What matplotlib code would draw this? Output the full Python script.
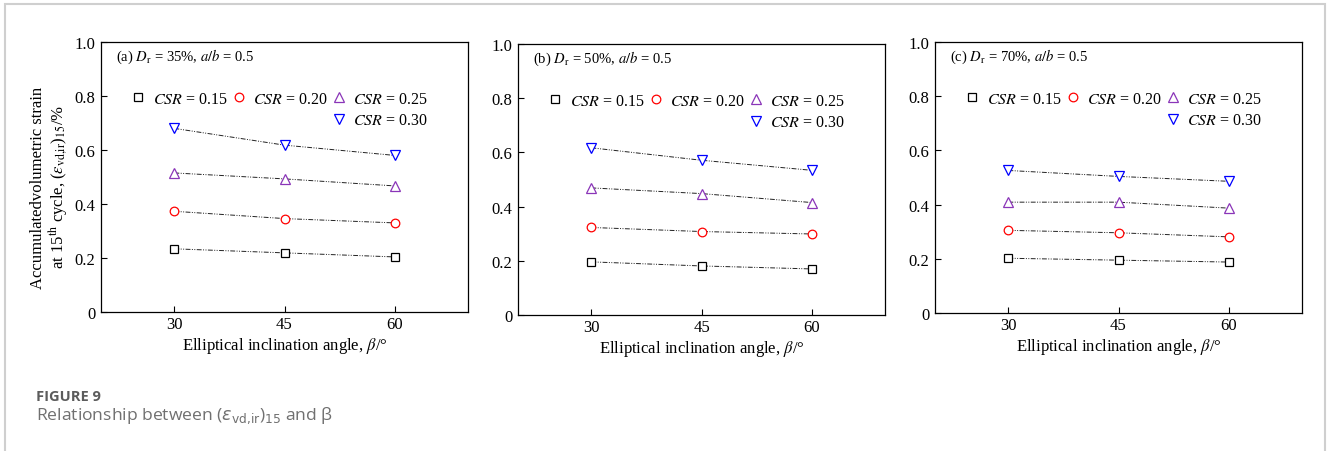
import matplotlib
matplotlib.use("Agg")
import matplotlib.pyplot as plt
from matplotlib.lines import Line2D
from matplotlib.patches import Rectangle

plt.rcParams["font.family"] = ["Liberation Serif", "DejaVu Serif"]
plt.rcParams["mathtext.fontset"] = "stix"

beta = [30, 45, 60]
csr_labels = ["0.15", "0.20", "0.25", "0.30"]

# accumulated volumetric strain at the 15th cycle, one list per CSR
strain_a = [[0.234, 0.219, 0.204],
            [0.373, 0.346, 0.330],
            [0.515, 0.493, 0.467],
            [0.680, 0.618, 0.580]]
strain_b = [[0.196, 0.181, 0.170],
            [0.323, 0.308, 0.299],
            [0.469, 0.448, 0.415],
            [0.617, 0.571, 0.534]]
strain_c = [[0.202, 0.195, 0.188],
            [0.305, 0.296, 0.281],
            [0.409, 0.409, 0.387],
            [0.526, 0.504, 0.486]]

panels = [
    ("(a) $D_\\mathrm{r}$ = 35%, $a/b$ = 0.5", strain_a),
    ("(b) $D_\\mathrm{r}$ = 50%, $a/b$ = 0.5", strain_b),
    ("(c) $D_\\mathrm{r}$ = 70%, $a/b$ = 0.5", strain_c),
]

markers = ["s", "o", "^", "v"]
colors = ["#000000", "#ff0000", "#8a35b8", "#0000ff"]
msizes = [5.5, 6.2, 7.0, 7.0]
dashdotdot = (0, (5, 1.5, 1, 1.5, 1, 1.5))

W, H = 1328, 452
fig = plt.figure(figsize=(W / 100, H / 100), dpi=100, facecolor="white")

# axes boxes in pixels: left, top, right, bottom
boxes = [(101, 43, 468, 313), (518, 45, 885, 316), (935, 43, 1302, 314)]

for i, ((title, data), (l, t, r, b)) in enumerate(zip(panels, boxes)):
    ax = fig.add_axes([l / W, 1 - b / H, (r - l) / W, (b - t) / H])
    handles = []
    for k, ys in enumerate(data):
        ax.plot(beta, ys, color="#222222", lw=0.7, ls=dashdotdot, zorder=1)
        h, = ax.plot(beta, ys, ls="none", marker=markers[k], ms=msizes[k],
                     mfc="white", mec=colors[k], mew=0.9, zorder=2,
                     label=f"$CSR$ = {csr_labels[k]}")
        handles.append(h)

    ax.set_xlim(20, 70)
    ax.set_ylim(0, 1.0)
    ax.set_xticks(beta)
    ax.set_yticks([0, 0.2, 0.4, 0.6, 0.8, 1.0], ["0", "0.2", "0.4", "0.6", "0.8", "1.0"])
    ax.tick_params(direction="in", length=4, width=0.8, labelsize=12, pad=4)
    ax.tick_params(axis="x", pad=3)
    for s in ax.spines.values():
        s.set_linewidth(0.9)

    ax.text(0.04, 0.948, title, transform=ax.transAxes, fontsize=10.5,
            ha="left", va="center")

    blank = Line2D([], [], ls="none")
    order = [handles[0], blank, handles[1], blank, handles[2], handles[3]]
    labels = [h.get_label() if h is not blank else "" for h in order]
    ax.legend(order, labels, ncol=3, frameon=False, fontsize=11.5,
              loc="upper left", bbox_to_anchor=(0.084, 0.82),
              borderaxespad=0, borderpad=0, handlelength=0.8,
              handletextpad=0.5, columnspacing=0.3, labelspacing=0.35)

    ax.set_xlabel("Elliptical inclination angle, $\\beta$/°", fontsize=12, labelpad=2)
    if i == 0:
        ax.set_ylabel("Accumulatedvolumetric strain\n"
                      "at 15$^{\\mathrm{th}}$ cycle, ($\\varepsilon_{\\mathrm{vd{,}ir}}$)$_{15}$/%",
                      fontsize=12, va="center", linespacing=1.0)
        ax.yaxis.set_label_coords(-0.139, 0.465)

# page frame around the figure and caption
fig.add_artist(Rectangle((4.5 / W, -0.2), (1325 - 4.5) / W, 1.2 - 4.5 / H,
                         transform=fig.transFigure, fill=False,
                         edgecolor="#cfcfcf", lw=1.5))
fig.text(36 / W, 1 - 397 / H, "FIGURE 9", fontsize=10.5, fontweight="bold",
         color="#5c5c5c", family=["Open Sans", "DejaVu Sans"], va="center")
fig.text(36 / W, 1 - 416 / H,
         "Relationship between ($\\varepsilon_{\\mathrm{vd{,}ir}}$)$_{15}$ and β",
         fontsize=12.6, color="#707070", family=["Open Sans", "DejaVu Sans"],
         va="center", math_fontfamily="dejavusans")

fig.savefig("out.png", dpi=100, facecolor="white")
